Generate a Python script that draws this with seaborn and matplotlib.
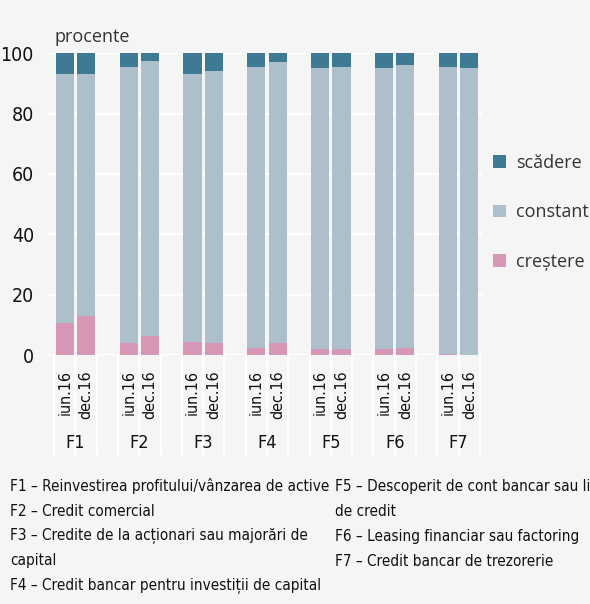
import pandas as pd
import seaborn as sns
import matplotlib.pyplot as plt

# Data (procente)
grupe = ['F1', 'F2', 'F3', 'F4', 'F5', 'F6', 'F7']
perioade = ['iun.16', 'dec.16']
crestere = [10.5, 13, 4, 6.5, 4.5, 4, 2.5, 4, 2, 2, 2, 2.5, 0.5, 0]
constant = [82.5, 80, 91.5, 91, 88.5, 90, 93, 93, 93, 93.5, 93, 93.5, 95, 95]
scadere = [7, 7, 4.5, 2.5, 7, 6, 4.5, 3, 5, 4.5, 5, 4, 4.5, 5]
serii = ['scădere', 'constant', 'creștere']
culori = ['#3f7a94', '#aebfcc', '#d797b6']

note_stanga = ['F1 – Reinvestirea profitului/vânzarea de active',
               'F2 – Credit comercial',
               'F3 – Credite de la acționari sau majorări de',
               'capital',
               'F4 – Credit bancar pentru investiții de capital']
note_dreapta = ['F5 – Descoperit de cont bancar sau linii',
                'de credit',
                'F6 – Leasing financiar sau factoring',
                'F7 – Credit bancar de trezorerie']

# long format, one slot per bar + one empty slot between groups
rows = []
for i, (c, k, s) in enumerate(zip(crestere, constant, scadere)):
    g, p = divmod(i, 2)
    pos = 3 * g + p
    for name, val in zip(serii, [s, k, c]):
        rows.append({'pos': pos, 'serie': name, 'valoare': val,
                     'perioada': perioade[p], 'grupa': grupe[g]})
df = pd.DataFrame(rows)

bg = '#f5f5f5'
sns.set_style('darkgrid', {'axes.facecolor': bg, 'figure.facecolor': bg,
                           'grid.color': 'white'})
light = ['Open Sans', 'DejaVu Sans']
plt.rcParams['font.family'] = ['DejaVu Sans']
plt.rcParams['font.stretch'] = 'condensed'

fig = plt.figure(figsize=(5.9, 6.04), dpi=100)
ax = fig.add_axes([0.081, 0.412, 0.736, 0.5])

sns.histplot(data=df, x='pos', weights='valoare', hue='serie', hue_order=serii,
             multiple='stack', discrete=True, shrink=0.85, palette=culori,
             alpha=1, linewidth=0, ax=ax)

ax.set_ylim(0, 100)
ax.set_xlim(-0.8, 19.6)
ax.set_yticks(range(0, 101, 20))
ax.tick_params(axis='y', labelsize=14, length=0, pad=10, labelcolor='#111111')
ax.grid(axis='y', color='white', linewidth=1.6)
ax.grid(axis='x', visible=False)
ax.set_xlabel('')
ax.set_ylabel('')
for s in ax.spines.values():
    s.set_visible(False)

ticks = sorted(df['pos'].unique())
ax.set_xticks(ticks)
ax.set_xticklabels([perioade[t % 3] for t in ticks], rotation=90, fontsize=11.5)
ax.tick_params(axis='x', which='major', length=0, pad=11, labelcolor='#111111')
ax.set_xticks([x - 0.5 for x in range(21)], minor=True)
ax.tick_params(axis='x', which='minor', bottom=True, length=72, width=1.5,
               color='white', direction='out')

for g, name in enumerate(grupe):
    ax.text(3 * g + 0.5, -0.29, name, transform=ax.get_xaxis_transform(),
            ha='center', va='center', fontsize=13, color='#111111')

ax.text(0.016, 1.055, 'procente', transform=ax.transAxes, ha='left', va='center',
        fontsize=13, family=light, stretch='normal', color='#333333')

sns.move_legend(ax, 'center left', bbox_to_anchor=(1.0, 0.473), frameon=False,
                title=None, handlelength=0.7, handleheight=0.7,
                labelspacing=1.75, handletextpad=0.6, borderaxespad=0.2,
                prop={'family': light, 'size': 13, 'stretch': 'normal'})
for t in ax.get_legend().get_texts():
    t.set_color('#333333')

for j, line in enumerate(note_stanga):
    fig.text(10 / 590, 1 - (486 + 25 * j) / 604, line, ha='left', va='center',
             fontsize=11, color='#111111')
for j, line in enumerate(note_dreapta):
    fig.text(335 / 590, 1 - (486 + 25 * j) / 604, line, ha='left', va='center',
             fontsize=11, color='#111111')

fig.savefig('out.png', dpi=100, facecolor=bg)
